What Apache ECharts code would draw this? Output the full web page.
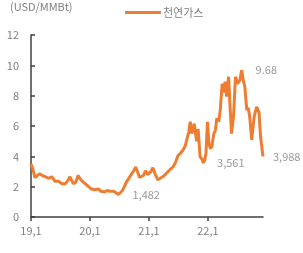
<!DOCTYPE html>
<html><head><meta charset="utf-8">
<script src="https://cdn.jsdelivr.net/npm/echarts@6/dist/echarts.min.js"></script>
<style>html,body{margin:0;padding:0;background:#fff}#c{width:303px;height:253px}</style>
</head><body><div id="c"></div>
<script>
// months since Jan 2019
var months = [0.0,0.4,0.8,1.2,1.7,2.1,2.5,3.0,3.5,3.9,4.2,4.6,4.9,5.2,5.6,5.9,6.3,6.7,7.0,7.3,7.6,7.9,8.3,8.6,9.1,9.6,9.9,10.3,10.7,11.0,11.4,11.7,12.0,12.3,12.7,13.0,13.4,13.8,14.2,14.6,15.0,15.5,16.0,16.4,16.8,17.3,17.8,18.2,18.6,19.0,19.4,19.7,20.0,20.3,20.6,21.0,21.3,21.7,22.1,22.5,22.9,23.3,23.7,24.0,24.4,24.8,25.3,25.8,26.2,26.8,27.3,27.9,28.4,28.9,29.4,29.9,30.4,30.9,31.4,31.7,32.1,32.4,32.7,33.2,33.7,34.0,34.4,34.9,35.0,35.3,35.6,35.9,36.2,36.5,36.8,37.2,37.5,37.8,38.2,38.5,38.9,39.2,39.5,39.8,40.2,40.5,40.8,41.2,41.6,42.0,42.5,42.85,43.2,43.5,43.9,44.2,44.5,44.9,45.4,45.9,46.2,46.4,46.7,47.2];
var prices = [3.5,3.15,2.6,2.7,2.85,2.8,2.7,2.65,2.55,2.6,2.65,2.5,2.35,2.25,2.35,2.35,2.2,2.15,2.2,2.3,2.45,2.65,2.4,2.2,2.3,2.75,2.55,2.4,2.3,2.2,2.1,2.0,1.95,1.85,1.9,1.8,1.75,1.85,1.7,1.8,1.65,1.75,1.7,1.6,1.7,1.6,1.482,1.6,1.75,2.0,2.3,2.45,2.6,2.75,2.9,3.1,3.3,2.95,2.6,2.55,2.75,3.05,2.8,2.75,3.0,3.25,2.8,2.45,2.5,2.65,2.8,3.0,3.15,3.3,3.6,4.05,4.2,4.4,4.7,5.1,5.6,6.28,5.5,6.15,5.0,5.8,3.98,3.75,3.561,3.7,4.2,6.28,4.87,4.5,4.64,5.5,5.7,6.5,6.3,7.05,8.8,8.2,8.92,7.93,9.25,7.27,5.5,6.6,9.25,8.8,9.03,9.68,9.0,8.6,7.05,7.2,6.6,5.08,6.6,7.27,7.05,6.85,5.3,3.988];
var xTickLabels = ["19,1","20,1","21,1","22,1"];
var yTicks = [0,2,4,6,8,10,12];
var labelMonths = [17.8,35.0,42.85,47.2];
var labelValues = [1.482,3.561,9.68,3.988];
var labelTexts = ["1,482","3,561","9.68","3,988"];
var seriesName = "천연가스";
var unitText = "(USD/MMBt)";

var font = "'Noto Sans CJK KR','Noto Sans',sans-serif";
var grey = "#7f7f7f";
var labelDist = [14,14,14,10];
var lineData = months.map(function(m,i){return [m,prices[i]];});
var labelData = labelMonths.map(function(m,i){return {value:[m,labelValues[i]], label:{formatter:labelTexts[i], distance:labelDist[i]}};});

var chart = echarts.init(document.getElementById('c'), null, {renderer:'canvas'});
chart.setOption({
  animation:false,
  backgroundColor:'#fff',
  textStyle:{fontFamily:font},
  graphic:[{type:'text', left:10, top:1, style:{text:unitText, fill:grey, font:"11px "+font}}],
  legend:{data:[seriesName], left:120, top:2, itemWidth:36, itemHeight:3, icon:'rect', itemGap:4,
    textStyle:{color:grey, fontSize:11, fontFamily:font, padding:[0,0,0,-3]}},
  grid:{left:31, right:40, top:35, bottom:36},
  xAxis:{type:'value', min:0, max:47.2, interval:12,
    axisLine:{show:true, onZero:false, lineStyle:{color:'#404040', width:1.5}},
    axisTick:{show:true, inside:false, length:4, lineStyle:{color:'#404040', width:1.5}},
    splitLine:{show:false},
    axisLabel:{showMaxLabel:false, color:grey, fontSize:11, fontFamily:font, margin:8,
      formatter:function(v){var i=Math.round(v/12); return xTickLabels[i]||'';}}
  },
  yAxis:{type:'value', min:yTicks[0], max:yTicks[yTicks.length-1], interval:2,
    axisLine:{show:true, lineStyle:{color:'#404040', width:1.5}},
    axisTick:{show:true, inside:true, length:4, lineStyle:{color:'#404040', width:1.5}},
    splitLine:{show:false},
    axisLabel:{color:grey, fontSize:11, fontFamily:font, margin:12, align:'right'}
  },
  series:[
    {name:seriesName, type:'line', data:lineData, showSymbol:false, symbol:'none',
      lineStyle:{color:'#ED7D31', width:3}, itemStyle:{color:'#ED7D31'}},
    {name:'labels', type:'scatter', data:labelData, symbolSize:0, silent:true,
      label:{show:true, position:'right', color:grey, fontSize:11, fontFamily:font}}
  ]
});
</script></body></html>
